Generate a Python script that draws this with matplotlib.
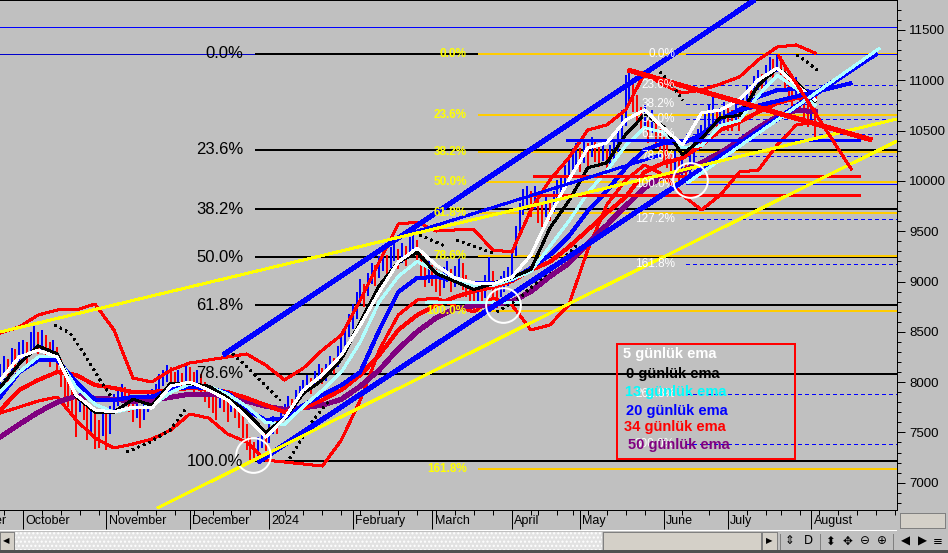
import matplotlib.pyplot as plt
from matplotlib.patches import Rectangle
from matplotlib.ticker import MultipleLocator

plt.rcParams['font.family'] = ['Liberation Sans', 'DejaVu Sans']
# the original is drawn without smoothing
plt.rcParams['lines.antialiased'] = False
plt.rcParams['patch.antialiased'] = False

W, H = 948, 553
PX = 0.72  # one pixel in points at 100 dpi

# price bars, one per trading day (bar 0 = first session of October 2023)
first_bar = -6
bar_high = [8180, 8260, 8230, 8340, 8330, 8400,
            8420, 8400, 8500, 8560, 8500, 8520, 8470, 8400, 8420, 8350, 8230, 8120, 8020, 7980, 7880, 7950, 7900, 7800, 7760, 7680, 7620, 7720,
            7680, 7760, 7880, 7930, 7980, 7950, 7900, 7820, 7820, 7760, 7800, 7880, 7930, 7980, 8080, 8120, 8170, 8150, 8100, 8120, 8090, 8170,
            8150, 8100, 8120, 8080, 8000, 7960, 7900, 7860, 7920, 7900, 7820, 7870, 7850, 7760, 7680, 7580, 7450, 7400, 7450, 7530, 7520,
            7580, 7660, 7650, 7720, 7780, 7860, 7830, 7920, 7960, 8020, 8070, 8040, 8110, 8180, 8140, 8180, 8260, 8240, 8360, 8470, 8530, 8680,
            8780, 8900, 9020, 8980, 9080, 9180, 9160, 9250, 9300, 9260, 9340, 9400, 9320, 9380, 9350, 9440, 9480, 9410, 9300, 9200, 9200,
            9160, 9120, 9060, 9140, 9200, 9120, 9150, 9230, 9180, 9060, 8980, 8920, 8990, 8960, 9060, 9240, 9100, 8960, 9050, 9100, 9140,
            9300, 9550, 9780, 9920, 9950, 9900, 9950, 9870, 9780, 9850, 9810, 9900, 10010, 10060, 10160, 10220, 10330, 10380,
            10330, 10410, 10380, 10440, 10420, 10360, 10400, 10320, 10360, 10400, 10520, 10700, 11050, 11100, 11020, 10850, 10730, 10750, 10640, 10700, 10600, 10520,
            10440, 10370, 10270, 10300, 10220, 10260, 10170, 10280, 10420, 10520, 10560, 10680, 10750, 10830, 10700, 10720, 10780,
            10720, 10700, 10760, 10720, 10860, 10950, 10920, 11040, 11100, 11060, 11150, 11230, 11210, 11260, 11240, 11120, 11010, 10960, 11030, 10900, 10820, 10760,
            10780, 10720]
bar_low = [7950, 8020, 8000, 8110, 8100, 8180,
           8200, 8180, 8270, 8330, 8280, 8300, 8240, 8150, 8210, 8090, 7950, 7800, 7750, 7650, 7450, 7700, 7620, 7420, 7500, 7340, 7350, 7460,
           7330, 7480, 7680, 7760, 7800, 7760, 7700, 7600, 7640, 7540, 7620, 7700, 7760, 7800, 7880, 7960, 8000, 7960, 7900, 7950, 7910, 7980,
           7950, 7900, 7960, 7880, 7800, 7740, 7690, 7620, 7740, 7700, 7600, 7700, 7640, 7540, 7440, 7330, 7210, 7210, 7250, 7350, 7320,
           7390, 7480, 7480, 7560, 7620, 7700, 7680, 7760, 7820, 7870, 7920, 7880, 7960, 8020, 7980, 8010, 8100, 8080, 8150, 8280, 8360, 8450,
           8530, 8630, 8780, 8750, 8860, 8980, 8960, 9030, 9100, 9060, 9130, 9200, 9120, 9180, 9150, 9230, 9300, 9180, 9030, 8950, 8990,
           8960, 8900, 8860, 8940, 9000, 8900, 8950, 9040, 8920, 8850, 8760, 8720, 8790, 8760, 8840, 8920, 8820, 8740, 8850, 8900, 8960,
           9020, 9250, 9450, 9660, 9720, 9640, 9720, 9580, 9540, 9640, 9600, 9690, 9790, 9840, 9920, 9990, 10080, 10140,
           10090, 10180, 10150, 10240, 10190, 10140, 10200, 10100, 10140, 10200, 10290, 10400, 10550, 10780, 10680, 10580, 10480, 10540, 10380, 10480, 10340, 10300,
           10200, 10130, 10040, 10080, 10000, 10040, 9980, 10040, 10180, 10300, 10340, 10440, 10500, 10540, 10450, 10500, 10540,
           10500, 10500, 10560, 10500, 10640, 10740, 10700, 10840, 10900, 10850, 10950, 11040, 11000, 11080, 11050, 10900, 10800, 10740, 10820, 10680, 10560, 10540,
           10600, 10430]
bar_close = [8050, 8150, 8100, 8250, 8200, 8300,
             8320, 8280, 8400, 8450, 8380, 8430, 8350, 8280, 8320, 8200, 8100, 7950, 7900, 7820, 7700, 7850, 7780, 7600, 7650, 7500, 7480, 7650,
             7500, 7700, 7800, 7850, 7900, 7850, 7800, 7700, 7750, 7650, 7750, 7800, 7850, 7900, 8000, 8050, 8100, 8050, 8000, 8050, 8000, 8100,
             8050, 8000, 8050, 7950, 7900, 7850, 7800, 7750, 7850, 7800, 7700, 7800, 7750, 7650, 7550, 7450, 7300, 7250, 7350, 7450, 7400,
             7500, 7600, 7550, 7650, 7700, 7800, 7750, 7850, 7900, 7950, 8000, 7950, 8050, 8100, 8050, 8100, 8200, 8150, 8300, 8400, 8450, 8600,
             8650, 8800, 8900, 8850, 9000, 9100, 9050, 9150, 9200, 9150, 9250, 9300, 9200, 9300, 9250, 9350, 9400, 9300, 9150, 9050, 9100,
             9050, 9000, 8950, 9050, 9100, 9000, 9050, 9150, 9000, 8950, 8850, 8800, 8900, 8850, 8950, 9100, 8900, 8850, 8950, 9000, 9050,
             9200, 9450, 9650, 9800, 9850, 9750, 9850, 9700, 9650, 9750, 9700, 9800, 9900, 9950, 10050, 10100, 10200, 10250,
             10200, 10300, 10250, 10350, 10300, 10250, 10300, 10200, 10250, 10300, 10400, 10550, 10900, 11000, 10800, 10700, 10600, 10650, 10500, 10600, 10450, 10400,
             10300, 10250, 10150, 10200, 10100, 10150, 10050, 10150, 10300, 10400, 10450, 10550, 10600, 10650, 10550, 10600, 10650,
             10600, 10550, 10650, 10600, 10750, 10850, 10800, 10950, 11000, 10950, 11050, 11150, 11100, 11200, 11150, 11000, 10900, 10850, 10950, 10800, 10700, 10650,
             10700, 10500]

# moving averages and bands
knot_idx = list(range(-6, 210, 5))
ema5 = [8021, 8250, 8319, 8250, 7872, 7723, 7703, 7752, 7742, 7961, 8001, 7922, 7822, 7653, 7454, 7643, 7922, 8071, 8269, 8568, 8896, 9194,
        9333, 9164, 9035, 8985, 8975, 9045, 9263, 9661, 10009, 10327, 10377, 10605, 10705, 10526, 10357, 10675, 10705, 10804, 11003, 11122, 10953, 10804]
ema8 = [7950, 8180, 8360, 8280, 7860, 7700, 7700, 7830, 7770, 7990, 7985, 7960, 7845, 7700, 7500, 7640, 7890, 8020, 8230, 8600, 8960, 9190,
        9290, 9080, 9000, 8920, 8980, 9040, 9120, 9530, 9800, 10130, 10180, 10460, 10660, 10540, 10260, 10420, 10630, 10650, 10950, 11120, 10980, 10790]
ema13 = [7900, 8100, 8250, 8250, 7950, 7780, 7700, 7740, 7760, 7900, 7980, 7960, 7880, 7760, 7600, 7580, 7760, 7920, 8100, 8400, 8800, 9050,
         9200, 9100, 9000, 8960, 8960, 9020, 9100, 9350, 9600, 9880, 10100, 10350, 10530, 10480, 10330, 10350, 10550, 10600, 10850, 11050, 10920, 10750]
ema20 = [7852, 8100, 8220, 8220, 8001, 7822, 7822, 7852, 7852, 7931, 7951, 7941, 7892, 7723, 7623, 7643, 7772, 7872, 7971, 8100, 8518, 8896,
         9035, 9045, 9015, 8985, 8985, 9015, 9134, 9263, 9450, 9700, 9900, 10128, 10307, 10377, 10377, 10456, 10615, 10705, 10834, 10903, 10913, 10874]
ema34 = [7722, 7922, 8021, 8100, 8071, 7971, 7941, 7902, 7902, 7922, 7941, 7931, 7902, 7842, 7772, 7703, 7742, 7822, 7922, 8071, 8269, 8518,
         8667, 8766, 8846, 8905, 8945, 9005, 9114, 9194, 9343, 9512, 9681, 9840, 10088, 10178, 10228, 10357, 10506, 10585, 10685, 10774, 10824, 10834]
ema50 = [7455, 7580, 7700, 7800, 7860, 7840, 7830, 7810, 7820, 7850, 7880, 7880, 7860, 7810, 7760, 7730, 7745, 7770, 7830, 7960, 8120, 8330,
         8500, 8640, 8730, 8760, 8770, 8800, 8900, 9050, 9180, 9380, 9560, 9750, 9930, 10050, 10100, 10180, 10280, 10400, 10530, 10640, 10700, 10690]
band_up = [8488, 8548, 8667, 8717, 8717, 8776, 8518, 8041, 8001, 8120, 8190, 8220, 8250, 8280, 8170, 8021, 8140, 8319, 8468, 8816, 9194, 9571,
           9591, 9502, 9512, 9512, 9313, 9293, 9711, 10009, 10228, 10506, 10556, 10705, 11072, 10953, 10874, 10903, 10963, 11033, 11202, 11331, 11351, 11271]
band_lo = [7693, 7752, 7812, 7852, 7624, 7444, 7345, 7385, 7434, 7524, 7683, 7643, 7484, 7404, 7225, 7206, 7186, 7166, 7424, 7822, 8319, 8667,
           8816, 8836, 8757, 8697, 8836, 8767, 8518, 8568, 8767, 9313, 9760, 10009, 10158, 10059, 9860, 9711, 9860, 10088, 10108, 10357, 10555, 10585]

# parabolic SAR stretches (bar, value)
sar_runs = [([8.4, 12.4, 16.4, 20.3, 23.0], [8567, 8488, 8269, 8021, 7872]),
            ([27.4, 33.5, 38.8, 42.7], [7305, 7404, 7524, 7722]),
            ([54.1, 58.6, 62.5, 67.8], [8319, 8170, 8021, 7822]),
            ([70.4, 76.5, 81.0], [7245, 7623, 7822]),
            ([104.7, 111.9], [9462, 9343]),
            ([114.5, 124.0], [9412, 9283]),
            ([125.1, 130.3, 136.4, 141.7, 146.2], [8697, 8816, 9015, 9194, 9363]),
            ([168.1, 171.2, 174.1], [11082, 10953, 10804]),
            ([204.2, 206.9, 209.5], [11251, 11182, 11102])]

# fibonacci sets
fib_big_levels = [11266, 10310, 9719, 9241, 8763, 8083, 7216]
fib_big_labels = ['0.0%', '23.6%', '38.2%', '50.0%', '61.8%', '78.6%', '100.0%']
fib_yel_levels = [11260, 10658, 10286, 9985, 9684, 9256, 8710, 7134]
fib_yel_labels = ['0.0%', '23.6%', '38.2%', '50.0%', '61.8%', '78.6%', '100.0%', '161.8%']
fib_wht_levels = [11262, 10957, 10768, 10616, 10464, 10247, 9970, 9619, 9172, 7880, 7386]
fib_wht_labels = ['0.0%', '23.6%', '38.2%', '50.0%', '61.8%', '78.6%', '100.0%', '127.2%', '161.8%', '261.8%', '300.0%']

# trend lines (bar, value) pairs
chan_up = ([52.8, 193.1], [8270, 11800])
chan_lo = ([62.0, 225.3], [7206, 11271])
blue_mid = ([100.8, 168.1], [9462, 10257])
blue_short = ([189.2, 218.7], [10705, 10973])
cyan_tl = ([175.2, 226.1], [9979, 11321])
yel_up = ([-6.07, 230.6], [8498, 10615])
yel_lo = ([35.4, 230.6], [6748, 10396])
red_tl = ([159.6, 224.0], [11102, 10406])
red_thin = ([199.2, 218.7], [11251, 10108])
circles_x = [60.7, 126.6, 176.0]
circles_y = [7275, 8765, 10009]

month_idx = [-21, 0, 22, 44, 65, 87, 108, 129, 147, 169, 186, 208]
month_names = ['September', 'October', 'November', 'December', '2024', 'February', 'March',
               'April', 'May', 'June', 'July', 'August']
week_idx = [-10, -5, 5, 10, 15, 20, 25, 30, 35, 40, 45, 50, 55, 60, 69, 74, 79, 84, 89, 94, 99, 104,
            109, 114, 119, 124, 134, 136, 141, 145, 149, 154, 159, 164, 174, 181, 191, 196, 200, 205,
            210, 215, 220, 225, 230]
y_ticks = [7000, 7500, 8000, 8500, 9000, 9500, 10000, 10500, 11000, 11500]

legend_names = ['5 günlük ema', '0 günlük ema', '13 günlük ema', '20 günlük ema', '34 günlük ema', '50 günlük ema']
legend_colors = ['#ffffff', '#000000', '#00ffff', '#0000ff', '#ff0000', '#800080']

BG = '#c0c0c0'
fig = plt.figure(figsize=(W / 100, H / 100), dpi=100, facecolor=BG)
ax = fig.add_axes([0, 43 / H, 897 / W, 510 / H], facecolor=BG)
x_lo, x_hi = -6.07, 230.6

# horizontal levels
ax.axhline(11530, color='#0000ff', lw=PX, zorder=1)
ax.axhline(fib_big_levels[0], color='#0000cc', lw=PX, zorder=1)
ax.hlines(fib_big_levels, 61.2, x_hi, color='black', lw=2 * PX, zorder=2)
ax.hlines(fib_yel_levels, 120, x_hi, color='#ffcc00', lw=2 * PX, zorder=2.1)
for lev in fib_wht_levels:
    solid = lev in (fib_wht_levels[0], fib_wht_levels[6])
    ax.hlines(lev, 175, x_hi, color='#0000ff', lw=PX,
              linestyles='solid' if solid else (0, (4, 4)), zorder=2.2)
ax.hlines([10049, 9860], 134.6, 220.8, color='#ff0000', lw=3 * PX, zorder=4.5)
ax.hlines(10406, 143.3, 220.8, color='#0000ff', lw=3 * PX, zorder=4.5)
ax.hlines(8796, 106, 131, color='#b0ffff', lw=3 * PX, zorder=4.5)

# bars
bx = list(range(first_bar, first_bar + len(bar_high)))
cols = ['#0000ff' if i == 0 or bar_close[i] >= bar_close[i - 1] else '#ff0000'
        for i in range(len(bar_close))]
ax.vlines(bx, bar_low, bar_high, colors=cols, lw=2 * PX, zorder=3, antialiased=False)

# bands and averages
ax.plot(knot_idx, band_up, color='#ff0000', lw=2 * PX, zorder=3.5)
ax.plot(knot_idx, band_lo, color='#ff0000', lw=2 * PX, zorder=3.5)
ax.plot(knot_idx, ema50, color='#800080', lw=4 * PX, zorder=4)
ax.plot(knot_idx, ema34, color='#ff0000', lw=3 * PX, zorder=4.1)
ax.plot(knot_idx, ema20, color='#0000ff', lw=3 * PX, zorder=4.2)
ax.plot(knot_idx, ema13, color='#b0ffff', lw=2 * PX, zorder=4.3)
ax.plot(knot_idx, ema8, color='black', lw=2 * PX, zorder=4.4)
ax.plot(knot_idx, ema5, color='white', lw=2 * PX, zorder=4.5)
for xs, ys in sar_runs:
    ax.plot(xs, ys, color='black', lw=1.5 * PX, ls=(0, (1, 3)), zorder=4.6)

# trend lines
for pts, c, w in [(chan_up, '#0000ff', 4), (chan_lo, '#0000ff', 4), (blue_mid, '#0000ff', 2),
                  (blue_short, '#0000ff', 3), (cyan_tl, '#b0ffff', 2), (yel_up, '#ffff00', 2),
                  (yel_lo, '#ffff00', 2), (red_tl, '#ff0000', 4), (red_thin, '#ff0000', 2)]:
    ax.plot(pts[0], pts[1], color=c, lw=w * PX, zorder=5, solid_capstyle='butt')
ax.plot(circles_x, circles_y, 'o', ms=25, mfc='none', mec='white', mew=2 * PX, zorder=6)

# fib labels
for lev, lab in zip(fib_big_levels, fib_big_labels):
    ax.text(58.1, lev, lab, ha='right', va='center', fontsize=12, color='black', zorder=7)
for lev, lab in zip(fib_yel_levels, fib_yel_labels):
    ax.text(117.1, lev, lab, ha='right', va='center', fontsize=8.5, fontweight='bold',
            color='#ffff00', zorder=7)
for lev, lab in zip(fib_wht_levels, fib_wht_labels):
    ax.text(172.0, lev, lab, ha='right', va='center', fontsize=8.5, color='white', zorder=7)

# axes styling
ax.spines['left'].set_visible(False)
for side in ('top', 'right', 'bottom'):
    ax.spines[side].set_color('black')
    ax.spines[side].set_linewidth(PX)
ax.yaxis.tick_right()
ax.set_yticks(y_ticks)
ax.set_yticklabels([str(v) for v in y_ticks])
ax.yaxis.set_minor_locator(MultipleLocator(100))
ax.tick_params(axis='y', which='major', length=5.8, width=PX, pad=2.9, labelsize=9.5, colors='black')
ax.tick_params(axis='y', which='minor', length=3, width=PX)
ax.set_xticks(month_idx)
ax.set_xticks(week_idx, minor=True)
ax.tick_params(axis='x', which='major', length=14, width=PX, labelbottom=False)
ax.tick_params(axis='x', which='minor', length=3.6, width=PX)
# limits last, setting ticks would widen them
ax.set_xlim(x_lo, x_hi)
ax.set_ylim(6729, 11798)
for m, name in zip(month_idx, month_names):
    ax.text(m + 0.6, -0.0216, name, transform=ax.get_xaxis_transform(), ha='left', va='center',
            fontsize=9, clip_on=False)

# pixel overlay: legend box and window chrome
ov = fig.add_axes([0, 0, 1, 1], zorder=10)
ov.set_xlim(0, W)
ov.set_ylim(H, 0)
ov.axis('off')
ov.add_patch(Rectangle((617, 344), 178, 115, fill=False, ec='#ff0000', lw=2 * PX))
leg_x = [623, 626, 625, 626, 624, 628]
leg_y = [354, 374, 392, 411, 427, 445]
for name, c, lx, ly in zip(legend_names, legend_colors, leg_x, leg_y):
    ov.text(lx, ly, name, color=c, fontsize=10.5, fontweight='bold', ha='left', va='center')

ov.add_patch(Rectangle((0, 531), W, 22, fc=BG, ec='none'))
ov.add_patch(Rectangle((0, 530), 897, 1, fc='white', ec='none'))
ov.add_patch(Rectangle((14, 532), 588, 18, fc='#e2e2e2', ec='white', lw=0, hatch='....'))
ov.add_patch(Rectangle((0, 532), 14, 18, fc='#d4d0c8', ec='#808080', lw=PX))
ov.add_patch(Rectangle((603, 532), 158, 18, fc='#d4d0c8', ec='#808080', lw=PX))
ov.add_patch(Rectangle((762, 532), 15, 18, fc='#d4d0c8', ec='#808080', lw=PX))
ov.add_patch(Rectangle((0, 550), W, 3, fc='#505050', ec='none'))
ov.add_patch(Rectangle((900, 513), 45, 15, fc='#d4d0c8', ec='#808080', lw=PX))
ov.text(6, 541, '◀', fontsize=6, ha='center', va='center', family='DejaVu Sans')
ov.text(769, 541, '▶', fontsize=6, ha='center', va='center', family='DejaVu Sans')
icons = [(790, '⇕'), (808, 'D'), (830, '⬍'), (847, '✥'), (865, '⊖'), (882, '⊕'),
         (905, '◀'), (922, '▶'), (938, '≡')]
for ix, sym in icons:
    ov.text(ix, 541, sym, fontsize=8.5, ha='center', va='center', family='DejaVu Sans')
for sx in (780, 820, 893):
    ov.plot([sx, sx], [534, 549], color='#808080', lw=PX)

fig.savefig('out.png', dpi=100, facecolor=BG)
